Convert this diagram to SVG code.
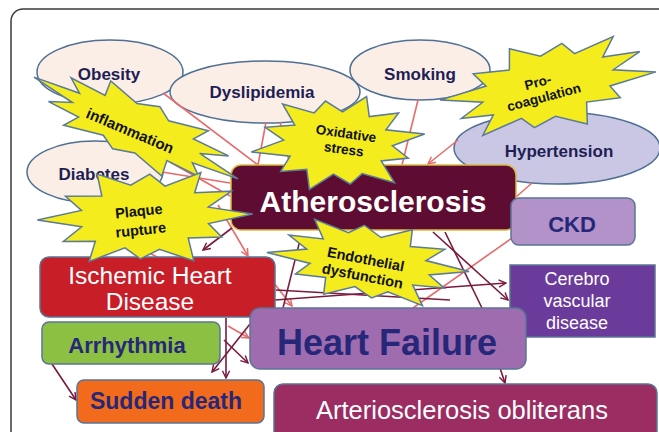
<svg xmlns="http://www.w3.org/2000/svg" xmlns:xlink="http://www.w3.org/1999/xlink" width="659" height="432" viewBox="0 0 659 432">
<style>
.ell{fill:#fbeee6;stroke:#4f6f94;stroke-width:1.5}
.rf{font-family:"Liberation Sans",Arial,sans-serif;font-weight:bold;font-size:17px;fill:#1e1e55;text-anchor:middle}
.bt{font-family:"Liberation Sans",Arial,sans-serif;font-weight:bold;fill:#111;text-anchor:middle}
.box{stroke:#5a7595;stroke-width:1.5}
.wt{font-family:"Liberation Sans",Arial,sans-serif;fill:#fff;text-anchor:middle}
.nv{font-family:"Liberation Sans",Arial,sans-serif;font-weight:bold;fill:#27277a;text-anchor:middle}
.sal{stroke:#e86a6a;stroke-width:1.6;fill:none}
.mar{stroke:#7a1a3e;stroke-width:1.6;fill:none}
</style>
<defs>
<polygon id="burst" points="100,0 59.9,16.1 73.6,42.5 42.4,42.4 50,86.6 16.8,62.8 0,80 -15.5,58 -47.5,82.3 -43.8,43.8 -73.6,42.5 -58,15.5 -100,0 -59.9,-16.1 -76.2,-44 -42.4,-42.4 -49,-84.9 -16.6,-61.8 0,-82 15.5,-58 47.5,-82.3 43.8,-43.8 77.9,-45 58,-15.5" fill="#f4ec1c" stroke="#5b7b98" stroke-width="1.5" vector-effect="non-scaling-stroke" stroke-linejoin="miter"/>
<marker id="as" viewBox="0 0 10 10" refX="9" refY="5" markerWidth="9" markerHeight="9" markerUnits="userSpaceOnUse" orient="auto"><path d="M1,1 L9,5 L1,9" fill="none" stroke="#e86a6a" stroke-width="1.6"/></marker>
<marker id="am" viewBox="0 0 10 10" refX="9" refY="5" markerWidth="9" markerHeight="9" markerUnits="userSpaceOnUse" orient="auto"><path d="M1,1 L9,5 L1,9" fill="none" stroke="#7a1a3e" stroke-width="1.6"/></marker>
</defs>
<rect x="0" y="0" width="659" height="432" fill="#fff"/>
<rect x="11" y="9" width="700" height="500" rx="12" fill="#fff" stroke="#3a3a3a" stroke-width="1.5"/>

<g id="obesity"><ellipse class="ell" cx="110" cy="72" rx="73" ry="32"/><text class="rf" x="109" y="80">Obesity</text></g>
<g id="dyslipidemia"><ellipse class="ell" cx="265" cy="92" rx="95" ry="31"/><text class="rf" x="262" y="98">Dyslipidemia</text></g>
<g id="smoking"><ellipse class="ell" cx="420" cy="70" rx="70" ry="30"/><text class="rf" x="420" y="80">Smoking</text></g>
<g id="diabetes"><ellipse class="ell" cx="95" cy="172" rx="68" ry="31"/><text class="rf" x="94" y="180">Diabetes</text></g>
<g id="hypertension"><ellipse cx="557" cy="148" rx="103" ry="36" fill="#c9c7e3" stroke="#4f6f94" stroke-width="1.5"/><text class="rf" x="559" y="157">Hypertension</text></g>

<g id="connectors">
<line class="sal" x1="163" y1="93" x2="258" y2="165"/>
<line class="sal" x1="266" y1="122" x2="258" y2="165"/>
<line class="sal" x1="280" y1="122" x2="290" y2="165"/>
<line class="sal" x1="162" y1="172" x2="230" y2="183"/>
<line class="sal" x1="170" y1="162" x2="230" y2="196"/>
<line class="sal" x1="418" y1="100" x2="402" y2="165"/>
<line class="sal" x1="458" y1="140" x2="428" y2="164" marker-end="url(#as)"/>
<line class="sal" x1="532" y1="183" x2="516" y2="197"/>
<line class="sal" x1="512" y1="238" x2="413" y2="308"/>
<line class="sal" x1="218" y1="205" x2="248" y2="256" marker-end="url(#as)"/>
<line class="sal" x1="262" y1="268" x2="292" y2="306" marker-end="url(#as)"/>
<line class="sal" x1="140" y1="248" x2="157" y2="257"/>
<line class="sal" x1="228" y1="326" x2="249" y2="338" marker-end="url(#as)"/>
<line class="mar" x1="232" y1="228" x2="203" y2="250" marker-end="url(#am)"/>
<line class="mar" x1="433" y1="232" x2="508" y2="300" marker-end="url(#am)"/>
<line class="mar" x1="445" y1="232" x2="482" y2="308"/>
<line class="mar" x1="275" y1="300" x2="506" y2="283" marker-end="url(#am)"/>
<line class="mar" x1="276" y1="290" x2="450" y2="300"/>
<line class="mar" x1="300" y1="240" x2="280" y2="320"/>
<line class="mar" x1="500" y1="368" x2="505" y2="383" marker-end="url(#am)"/>
<line class="mar" x1="226" y1="318" x2="226" y2="378" marker-end="url(#am)"/>
<line class="mar" x1="250" y1="324" x2="212" y2="372" marker-end="url(#am)"/>
<line class="mar" x1="224" y1="340" x2="248" y2="363" marker-end="url(#am)"/>
<line class="mar" x1="52" y1="364" x2="76" y2="400" marker-end="url(#am)"/>
</g>

<g id="atherosclerosis"><rect x="231" y="165" width="285" height="65" rx="10" fill="#5f0c32" stroke="#d8b840" stroke-width="1.5"/><text class="wt" x="373" y="212" font-size="30" font-weight="bold">Atherosclerosis</text></g>
<g id="ckd"><rect class="box" x="511" y="198" width="124" height="47" rx="8" fill="#b292c8"/><text class="nv" x="572" y="232" font-size="22">CKD</text></g>
<g id="cerebro"><rect class="box" x="510" y="265" width="145" height="72" fill="#6b3b9b"/><text class="wt" x="577" y="285" font-size="18">Cerebro</text><text class="wt" x="577" y="307" font-size="18">vascular</text><text class="wt" x="577" y="329" font-size="18">disease</text></g>
<g id="ihd"><rect class="box" x="40" y="257" width="235" height="60" rx="9" fill="#c81e28"/><text class="wt" x="150" y="284" font-size="24.5">Ischemic Heart</text><text class="wt" x="150" y="310" font-size="24.5">Disease</text></g>
<g id="arrhythmia"><rect class="box" x="42" y="322" width="178" height="42" rx="7" fill="#8cc043"/><text class="nv" x="127" y="353" font-size="22">Arrhythmia</text></g>
<g id="sudden"><rect class="box" x="77" y="380" width="187" height="43" rx="7" fill="#f26b1d"/><text class="nv" x="166" y="409" font-size="23">Sudden death</text></g>
<g id="heartfailure"><rect class="box" x="250" y="308" width="276" height="61" rx="10" fill="#a06cb0"/><text class="nv" x="387" y="355" font-size="36">Heart Failure</text></g>
<g id="arterio"><rect class="box" x="274" y="384" width="383" height="60" rx="9" fill="#9b2d62"/><text class="wt" x="462" y="419" font-size="25.5">Arteriosclerosis obliterans</text></g>

<g id="inflammation"><use xlink:href="#burst" href="#burst" transform="translate(136,128) rotate(24) scale(1.15,0.36) rotate(8)"/><text class="bt" font-size="15" transform="translate(130,131) rotate(23)" x="0" y="5">inflammation</text></g>
<g id="oxidative"><use xlink:href="#burst" href="#burst" transform="translate(338,143) scale(0.88,0.52) rotate(-10)"/><text class="bt" font-size="13.5" transform="translate(345,141) rotate(8)"><tspan x="0" y="-3">Oxidative</tspan><tspan x="0" y="13">stress</tspan></text></g>
<g id="procoag"><use xlink:href="#burst" href="#burst" transform="translate(548,86) rotate(-14) scale(1.12,0.48) rotate(15)"/><text class="bt" font-size="13.5" transform="translate(542,90) rotate(-15)"><tspan x="-2" y="-4">Pro-</tspan><tspan x="0" y="12">coagulation</tspan></text></g>
<g id="plaque"><use xlink:href="#burst" href="#burst" transform="translate(145,217) rotate(-4) scale(1.08,0.52) rotate(5)"/><text class="bt" font-size="14.5" transform="translate(140,223) rotate(-6)"><tspan x="0" y="-7">Plaque</tspan><tspan x="0" y="12">rupture</tspan></text></g>
<g id="endothelial"><use xlink:href="#burst" href="#burst" transform="translate(368,262) rotate(8) scale(1.02,0.44) rotate(-6)"/><text class="bt" font-size="14.5" transform="translate(364,268) rotate(11)"><tspan x="0" y="-4">Endothelial</tspan><tspan x="0" y="13">dysfunction</tspan></text></g>
</svg>
